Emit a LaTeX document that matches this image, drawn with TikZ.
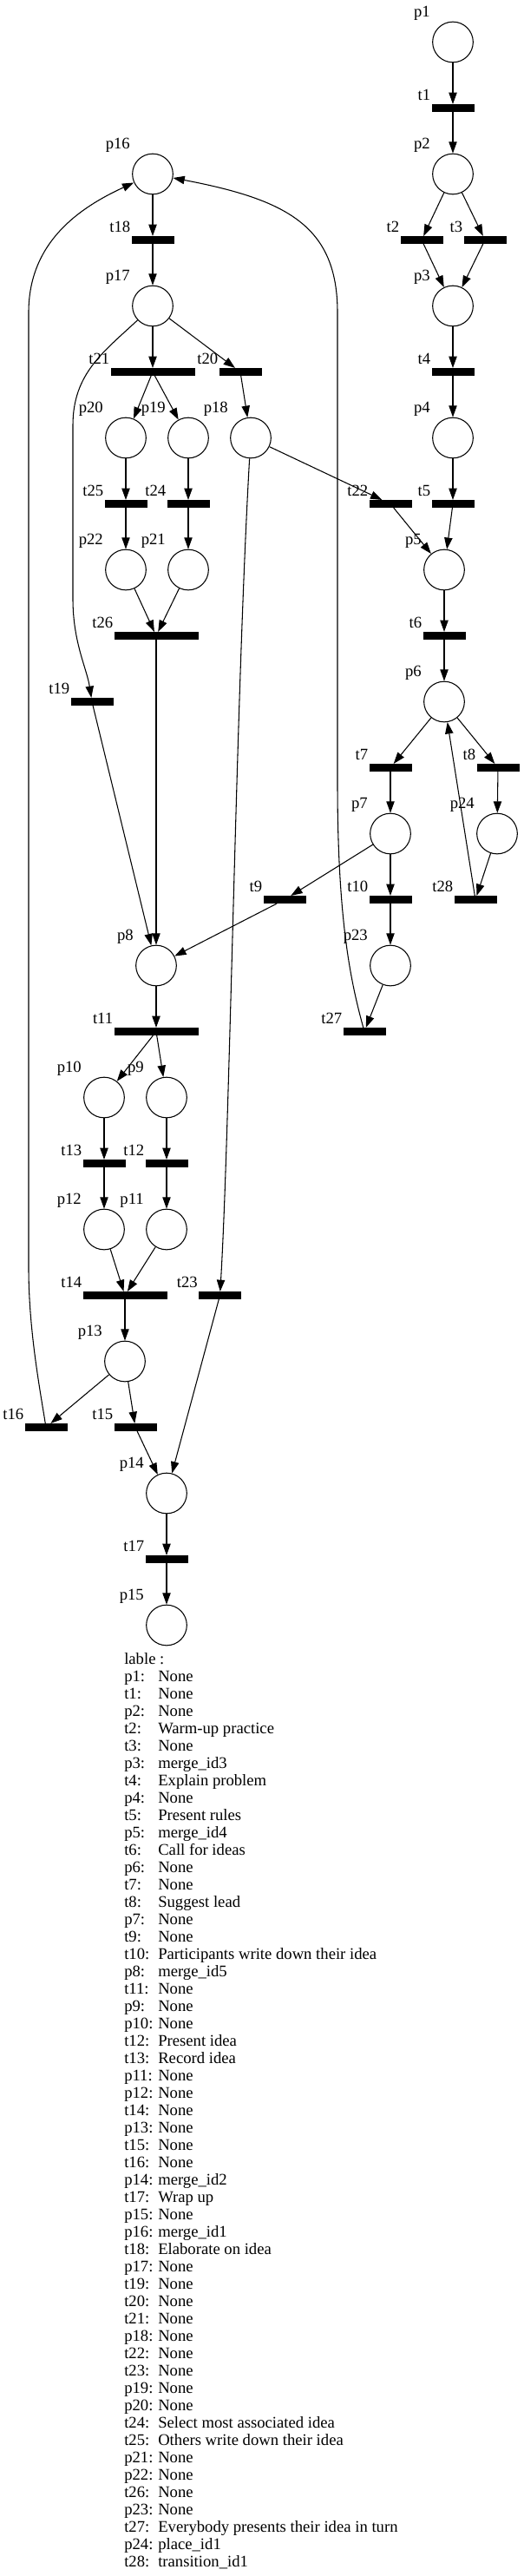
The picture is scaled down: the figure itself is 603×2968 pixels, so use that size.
\documentclass[tikz,border=0pt]{standalone}
\usepackage{fontspec}
\setmainfont{Liberation Serif}
\usepackage{tikz}
\usetikzlibrary{arrows.meta}
\tikzset{
  every node/.style={font=\fontsize{14pt}{15pt}\selectfont},
  plbl/.style={anchor=base east,inner sep=0pt,xshift=-6.8pt,yshift=9.05pt},
  tlbl/.style={anchor=base east,inner sep=0pt,xshift=-0.6pt,yshift=3.7pt},
  place/.style={circle,draw=black,line width=0.8pt,minimum size=35pt,inner sep=0pt,label={[plbl]above left:#1}},
  trans/.style={rectangle,fill=black,minimum width=36.75pt,minimum height=6.4pt,inner sep=0pt,label={[tlbl]north west:#1}},
  wtrans/.style={trans=#1,minimum width=72.75pt},
  flow/.style={->,line width=0.8pt},
  legtxt/.style={anchor=base west,inner sep=0pt},
  >={Triangle[length=10pt,width=7pt]}
}
\newcommand{\legrow}[2]{\makebox[29.25pt][l]{#1:}#2}

\begin{document}
\begin{tikzpicture}[x=0.75pt,y=-0.75pt]
\useasboundingbox (0,0) rectangle (603,2968);
% right branch
\node (p1) [place=p1] at (522,48.5) {};
\node (t1) [trans=t1] at (522,124.5) {};
\node (p2) [place=p2] at (522,200.5) {};
\node (t2) [trans=t2] at (486,276.5) {};
\node (t3) [trans=t3] at (559,276.5) {};
\node (p3) [place=p3] at (522,352.5) {};
\node (t4) [trans=t4] at (522,428.5) {};
\node (p4) [place=p4] at (522,504.5) {};
\node (t5) [trans=t5] at (522,580.5) {};
\node (t22) [trans=t22] at (450,580.5) {};
\node (p5) [place=p5] at (512,656.5) {};
\node (t6) [trans=t6] at (512,732.5) {};
\node (p6) [place=p6] at (512,808.5) {};
\node (t7) [trans=t7] at (450,884.5) {};
\node (t8) [trans=t8] at (574,884.5) {};
\node (p7) [place=p7] at (450,960.5) {};
\node (p24) [place=p24] at (573,960.5) {};
\node (t9) [trans=t9] at (328,1036.5) {};
\node (t10) [trans=t10] at (450,1036.5) {};
\node (t28) [trans=t28] at (548,1036.5) {};
\node (p23) [place=p23] at (450,1112.5) {};
\node (t27) [trans=t27] at (420,1188.5) {};
% left branch
\node (p16) [place=p16] at (176,200.5) {};
\node (t18) [trans=t18] at (176,276.5) {};
\node (p17) [place=p17] at (176,352.5) {};
\node (t21) [wtrans=t21] at (176,428.5) {};
\node (t20) [trans=t20] at (277,428.5) {};
\node (p20) [place=p20] at (145,504.5) {};
\node (p19) [place=p19] at (217,504.5) {};
\node (p18) [place=p18] at (289,504.5) {};
\node (t25) [trans=t25] at (145,580.5) {};
\node (t24) [trans=t24] at (217,580.5) {};
\node (p22) [place=p22] at (145,656.5) {};
\node (p21) [place=p21] at (217,656.5) {};
\node (t26) [wtrans=t26] at (180,732.5) {};
\node (t19) [trans=t19] at (106,808.5) {};
\node (p8) [place=p8] at (180,1112.5) {};
\node (t11) [wtrans=t11] at (180,1188.5) {};
\node (p10) [place=p10] at (120,1264.5) {};
\node (p9) [place=p9] at (192,1264.5) {};
\node (t13) [trans=t13] at (120,1340.5) {};
\node (t12) [trans=t12] at (192,1340.5) {};
\node (p12) [place=p12] at (120,1416.5) {};
\node (p11) [place=p11] at (192,1416.5) {};
\node (t14) [wtrans=t14] at (144,1492.5) {};
\node (t23) [trans=t23] at (253.5,1492.5) {};
\node (p13) [place=p13] at (144,1568.5) {};
\node (t16) [trans=t16] at (53,1644.5) {};
\node (t15) [trans=t15] at (156,1644.5) {};
\node (p14) [place=p14] at (192,1720.5) {};
\node (t17) [trans=t17] at (192,1796.5) {};
\node (p15) [place=p15] at (192,1872.5) {};
%
\path[flow] (p1) edge (t1);
\path[flow] (t1) edge (p2);
\path[flow] (p2) edge (t2) edge (t3);
\path[flow] (t2) edge (p3);
\path[flow] (t3) edge (p3);
\path[flow] (p3) edge (t4);
\path[flow] (t4) edge (p4);
\path[flow] (p4) edge (t5);
\path[flow] (t5) edge (p5);
\path[flow] (t22) edge (p5);
\path[flow] (p5) edge (t6);
\path[flow] (t6) edge (p6);
\path[flow] (p6) edge (t7) edge (t8);
\path[flow] (t7) edge (p7);
\path[flow] (t8) edge (p24);
\path[flow] (p24) edge (t28);
\path[flow] (t28) edge (p6);
\path[flow] (p7) edge (t9) edge (t10);
\path[flow] (t9) edge (p8);
\path[flow] (t10) edge (p23);
\path[flow] (p23) edge (t27);
\path[flow] (p16) edge (t18);
\path[flow] (t18) edge (p17);
\path[flow] (p17) edge (t21) edge (t20);
\path[flow] (t21) edge (p20) edge (p19);
\path[flow] (t20) edge (p18);
\path[flow] (p18) edge (t22);
\path[flow] (p20) edge (t25);
\path[flow] (p19) edge (t24);
\path[flow] (t25) edge (p22);
\path[flow] (t24) edge (p21);
\path[flow] (p22) edge (t26);
\path[flow] (p21) edge (t26);
\path[flow] (t26) edge (p8);
\path[flow] (t19) edge (p8);
\path[flow] (p8) edge (t11);
\path[flow] (t11) edge (p10) edge (p9);
\path[flow] (p10) edge (t13);
\path[flow] (p9) edge (t12);
\path[flow] (t13) edge (p12);
\path[flow] (t12) edge (p11);
\path[flow] (p12) edge (t14);
\path[flow] (p11) edge (t14);
\path[flow] (t14) edge (p13);
\path[flow] (p13) edge (t16) edge (t15);
\path[flow] (t15) edge (p14);
\path[flow] (t23) edge (p14);
\path[flow] (p14) edge (t17);
\path[flow] (t17) edge (p15);
% long arcs
\coordinate (a17) at (84,490);
\coordinate (b17) at (84,690);
\draw[flow] (p17) .. controls (120,405) and (84,430) .. (a17) -- (b17) .. controls (84,740) and (100,770) .. (t19);
\draw[flow] (p18) .. controls (272,800) and (265,1300) .. (t23);
\coordinate (a27) at (389,900);
\coordinate (b27) at (389,360);
\draw[flow] (t27) .. controls (404,1130) and (389,1060) .. (a27) -- (b27) .. controls (389,260) and (330,230) .. (p16);
\coordinate (a16) at (33,1460);
\coordinate (b16) at (33,360);
\draw[flow] (t16) .. controls (45,1595) and (33,1530) .. (a16) -- (b16) .. controls (33,280) and (90,240) .. (p16);
% legend
\node[legtxt] (legend) at (143,1917) {lable :};
\foreach \k/\v [count=\i] in {p1/None, t1/None, p2/None, t2/Warm-up practice, t3/None,
  p3/merge\_id3, t4/Explain problem, p4/None, t5/Present rules, p5/merge\_id4,
  t6/Call for ideas, p6/None, t7/None, t8/Suggest lead, p7/None, t9/None,
  t10/Participants write down their idea, p8/merge\_id5, t11/None, p9/None, p10/None,
  t12/Present idea, t13/Record idea, p11/None, p12/None, t14/None, p13/None, t15/None,
  t16/None, p14/merge\_id2, t17/Wrap up, p15/None, p16/merge\_id1, t18/Elaborate on idea,
  p17/None, t19/None, t20/None, t21/None, p18/None, t22/None, t23/None, p19/None,
  p20/None, t24/Select most associated idea, t25/Others write down their idea,
  p21/None, p22/None, t26/None, p23/None, t27/Everybody presents their idea in turn,
  p24/place\_id1, t28/transition\_id1}
  \node[legtxt] (row\i) at (143,{1917+20*\i}) {\legrow{\k}{\v}};
\end{tikzpicture}
\end{document}
